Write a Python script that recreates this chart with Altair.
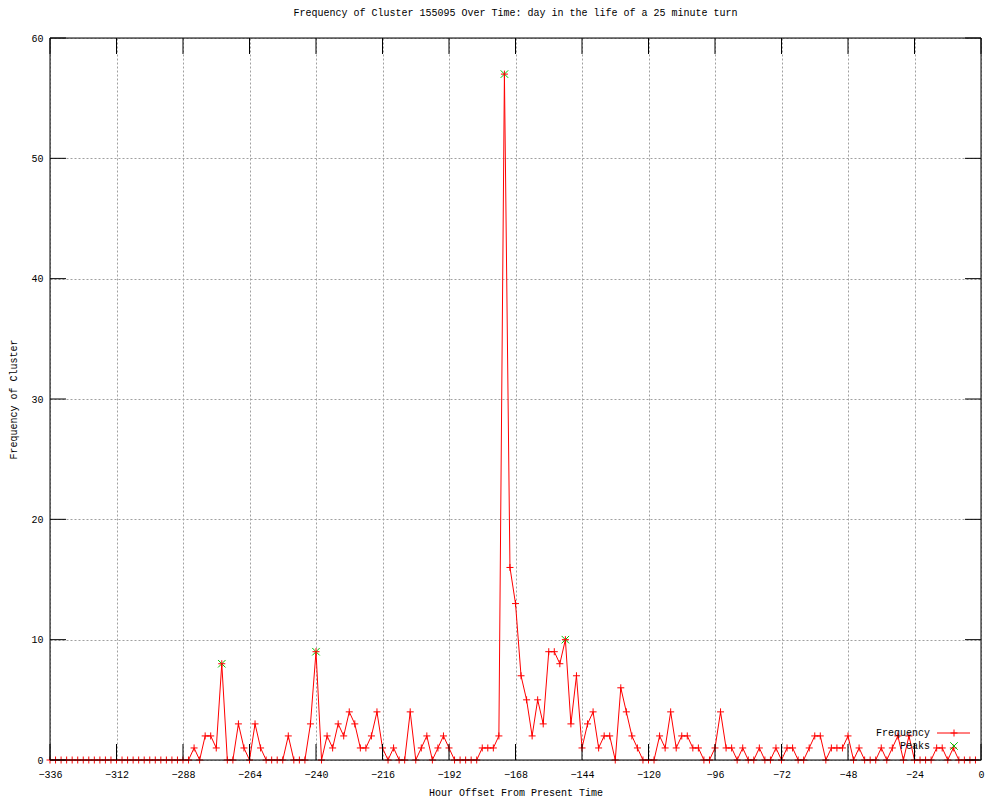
import altair as alt
import pandas as pd

# ---- data ----
hours = list(range(-336, 0, 2))
counts = [
    0, 0, 0, 0, 0, 0, 0, 0, 0, 0, 0, 0,        # -336 .. -314
    0, 0, 0, 0, 0, 0, 0, 0, 0, 0, 0, 0,        # -312 .. -290
    0, 0, 1, 0, 2, 2, 1, 8, 0, 0, 3, 1,        # -288 .. -266
    0, 3, 1, 0, 0, 0, 0, 2, 0, 0, 0, 3,        # -264 .. -242
    9, 0, 2, 1, 3, 2, 4, 3, 1, 1, 2, 4,        # -240 .. -218
    1, 0, 1, 0, 0, 4, 0, 1, 2, 0, 1, 2,        # -216 .. -194
    1, 0, 0, 0, 0, 0, 1, 1, 1, 2, 57, 16,      # -192 .. -170
    13, 7, 5, 2, 5, 3, 9, 9, 8, 10, 3, 7,      # -168 .. -146
    1, 3, 4, 1, 2, 2, 0, 6, 4, 2, 1, 0,        # -144 .. -122
    0, 0, 2, 1, 4, 1, 2, 2, 1, 1, 0, 0,        # -120 .. -98
    1, 4, 1, 1, 0, 1, 0, 0, 1, 0, 0, 1,        # -96 .. -74
    0, 1, 1, 0, 0, 1, 2, 2, 0, 1, 1, 1,        # -72 .. -50
    2, 0, 1, 0, 0, 0, 1, 0, 1, 2, 0, 2,        # -48 .. -26
    0, 0, 0, 0, 1, 1, 0, 1, 0, 0, 0, 0,        # -24 .. -2
]
peak_hours = [-274, -240, -172, -150]
peak_values = [8, 9, 57, 10]
x_ticks = list(range(-336, 1, 24))
y_ticks = [0, 10, 20, 30, 40, 50, 60]
legend_labels = ["Frequency", "Peaks"]
title_text = "Frequency of Cluster 155095 Over Time: day in the life of a 25 minute turn"
x_title = "Hour Offset From Present Time"
y_title = "Frequency of Cluster"

# ---- layout / style ----
W, H = 931, 722
TICK = 16
FONT = "Liberation Mono"
FS = 10
RED = "#ff0000"
GREEN = "#00c000"
GRID = "#a0a0a0"
PLUS = "M-1,0L1,0M0,-1L0,1"
XSHAPE = "M-1,-1L1,1M-1,1L1,-1"

df = pd.DataFrame({"x": hours, "y": counts})
pk = pd.DataFrame({"x": peak_hours, "y": peak_values})
xt = pd.DataFrame({"x": x_ticks})
yt = pd.DataFrame({"y": y_ticks})
one = pd.DataFrame({"a": [0]})

xscale = alt.Scale(domain=[-336, 0], nice=False, zero=False)
yscale = alt.Scale(domain=[0, 60], nice=False, zero=True)

xaxis = alt.Axis(values=x_ticks, title=x_title, grid=True, gridDash=[2, 2],
                 gridColor=GRID, gridWidth=1, gridOpacity=1, tickSize=0,
                 domain=False, labelFont=FONT, labelFontSize=FS,
                 labelColor="black", labelPadding=9, labelFlush=False,
                 labelOverlap=False, titleFont=FONT, titleFontSize=FS,
                 titleFontWeight="normal", titleColor="black", titlePadding=8)
yaxis = alt.Axis(values=y_ticks, title=y_title, grid=True, gridDash=[2, 2],
                 gridColor=GRID, gridWidth=1, gridOpacity=1, tickSize=0,
                 domain=False, labelFont=FONT, labelFontSize=FS,
                 labelColor="black", labelPadding=7, labelFlush=False,
                 labelOverlap=False, titleFont=FONT, titleFontSize=FS,
                 titleFontWeight="normal", titleColor="black", titlePadding=12)

X = alt.X("x:Q", scale=xscale, axis=xaxis)
Y = alt.Y("y:Q", scale=yscale, axis=yaxis)

line = alt.Chart(df).mark_line(color=RED, strokeWidth=1).encode(x=X, y=Y)
peaks = alt.Chart(pk).mark_point(shape=XSHAPE, size=56, filled=False,
                                 color=GREEN, strokeWidth=1, opacity=1).encode(x=X, y=Y)
points = alt.Chart(df).mark_point(shape=PLUS, size=49, filled=False,
                                  color=RED, strokeWidth=1, opacity=1).encode(x=X, y=Y)

# inward tick marks on all four sides
xt_bottom = alt.Chart(xt).mark_rule(color="black", strokeWidth=1).encode(
    x=X, y=alt.value(H), y2=alt.value(H - TICK))
xt_top = alt.Chart(xt).mark_rule(color="black", strokeWidth=1).encode(
    x=X, y=alt.value(0), y2=alt.value(TICK))
yt_left = alt.Chart(yt).mark_rule(color="black", strokeWidth=1).encode(
    y=Y, x=alt.value(0), x2=alt.value(TICK))
yt_right = alt.Chart(yt).mark_rule(color="black", strokeWidth=1).encode(
    y=Y, x=alt.value(W), x2=alt.value(W - TICK))

# border drawn over the data
border_b = alt.Chart(one).mark_rule(color="black", strokeWidth=1).encode(
    x=alt.value(0), x2=alt.value(W), y=alt.value(H))
border_l = alt.Chart(one).mark_rule(color="black", strokeWidth=1).encode(
    x=alt.value(0), y=alt.value(0), y2=alt.value(H))
border_t = alt.Chart(one).mark_rule(color="black", strokeWidth=1).encode(
    x=alt.value(0), x2=alt.value(W), y=alt.value(0))
border_r = alt.Chart(one).mark_rule(color="black", strokeWidth=1).encode(
    x=alt.value(W), y=alt.value(0), y2=alt.value(H))

# key (gnuplot style: text left of sample)
LX, LY1, LY2 = 880, 695, 708
leg_t1 = alt.Chart(pd.DataFrame({"t": [legend_labels[0]]})).mark_text(
    align="right", baseline="middle", font=FONT, fontSize=FS, color="black").encode(
    text="t:N", x=alt.value(LX), y=alt.value(LY1))
leg_t2 = alt.Chart(pd.DataFrame({"t": [legend_labels[1]]})).mark_text(
    align="right", baseline="middle", font=FONT, fontSize=FS, color="black").encode(
    text="t:N", x=alt.value(LX), y=alt.value(LY2))
leg_line = alt.Chart(one).mark_rule(color=RED, strokeWidth=1).encode(
    x=alt.value(LX + 7), x2=alt.value(LX + 40), y=alt.value(LY1))
leg_plus = alt.Chart(one).mark_point(shape=PLUS, size=49, filled=False, color=RED,
                                     strokeWidth=1, opacity=1).encode(
    x=alt.value(LX + 24), y=alt.value(LY1))
leg_x = alt.Chart(one).mark_point(shape=XSHAPE, size=56, filled=False, color=GREEN,
                                  strokeWidth=1, opacity=1).encode(
    x=alt.value(LX + 24), y=alt.value(LY2))

chart = alt.layer(
    line, peaks, points,
    xt_bottom, xt_top, yt_left, yt_right,
    border_b, border_l, border_t, border_r,
    leg_t1, leg_t2, leg_line, leg_plus, leg_x,
).properties(
    width=W, height=H,
    title=alt.TitleParams(title_text, font=FONT, fontSize=FS, fontWeight="normal",
                          color="black", anchor="middle", baseline="middle", offset=10),
    autosize=alt.AutoSizeParams(type="none"),
    padding={"left": 42, "top": 30, "right": 11, "bottom": 40},
).configure_view(stroke="black", strokeWidth=1).configure(background="white")

chart.save("out.html", embed_options={"renderer": "svg", "actions": False})
